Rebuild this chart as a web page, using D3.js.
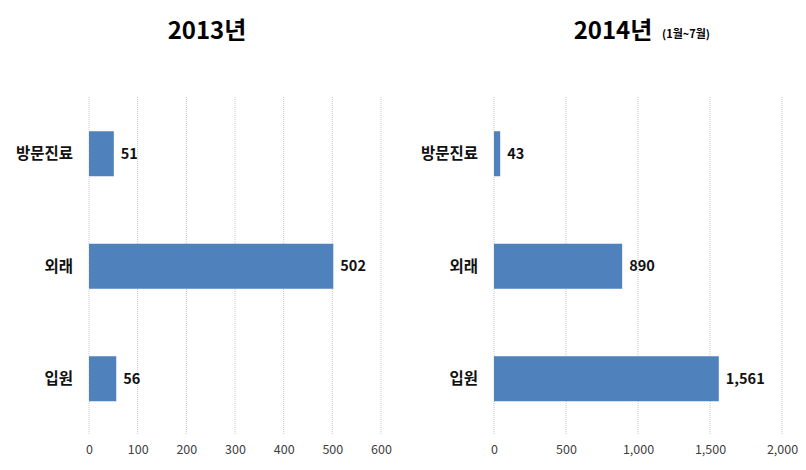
<!DOCTYPE html>
<html><head><meta charset="utf-8">
<script src="https://cdn.jsdelivr.net/npm/d3@7"></script>
<style>
html,body{margin:0;padding:0;background:#fff;}
svg{display:block;font-family:"Noto Sans CJK KR","Noto Sans",sans-serif;}
</style></head>
<body>
<svg id="chart" width="806" height="470"></svg>
<script>
const categories = ["방문진료", "외래", "입원"];
const values2013 = [51, 502, 56];
const values2014 = [43, 890, 1561];
const ticks2013 = [0, 100, 200, 300, 400, 500, 600];
const ticks2014 = [0, 500, 1000, 1500, 2000];
const titles = ["2013년", "2014년"];
const subtitle2014 = "(1월~7월)";

const svg = d3.select("#chart");
const fmt = d3.format(",");
const barColor = "#4f81bd";

const panels = [
  {values: values2013, ticks: ticks2013, x0: 89, x1: 381, title: titles[0], titleX: 207, sub: null},
  {values: values2014, ticks: ticks2014, x0: 494, x1: 782, title: titles[1], titleX: 613, sub: subtitle2014}
];

panels.forEach(p => {
  const x = d3.scaleLinear().domain([0, d3.max(p.ticks)]).range([p.x0, p.x1]);
  const y = d3.scaleBand().domain(categories).range([97.5, 435]).paddingInner(0.6).paddingOuter(0.3);
  const g = svg.append("g");

  g.selectAll("line.grid").data(p.ticks).join("line")
    .attr("x1", d => x(d)).attr("x2", d => x(d))
    .attr("y1", 97).attr("y2", 435)
    .attr("stroke", "#c8c8c8").attr("stroke-width", 1)
    .attr("stroke-dasharray", "1,1");

  const axis = d3.axisBottom(x).tickValues(p.ticks).tickFormat(fmt).tickSize(0).tickPadding(0);
  const ax = g.append("g").attr("transform", "translate(0,445)").call(axis);
  ax.select(".domain").remove();
  ax.selectAll("text").attr("font-size", 12.5).attr("fill", "#404040")
    .attr("font-family", "'Noto Sans CJK KR', sans-serif").attr("dy", "0.71em");

  g.selectAll("rect.bar").data(p.values).join("rect")
    .attr("x", x(0))
    .attr("y", (d, i) => y(categories[i]))
    .attr("width", d => x(d) - x(0))
    .attr("height", y.bandwidth())
    .attr("fill", barColor);

  g.selectAll("text.val").data(p.values).join("text")
    .attr("x", d => x(d) + 7)
    .attr("y", (d, i) => y(categories[i]) + y.bandwidth() / 2 + 5)
    .attr("font-size", 14.5).attr("font-weight", "bold").attr("fill", "#111")
    .text(d => fmt(d));

  g.selectAll("text.cat").data(categories).join("text")
    .attr("x", p.x0 - 16)
    .attr("y", d => y(d) + y.bandwidth() / 2 + 5.5)
    .attr("text-anchor", "end")
    .attr("font-size", 15.5).attr("font-weight", "bold").attr("fill", "#111")
    .text(d => d);

  g.append("text").attr("x", p.titleX).attr("y", 39)
    .attr("text-anchor", "middle").attr("font-size", 24).attr("font-weight", "bold")
    .attr("fill", "#000").text(p.title);
  if (p.sub) {
    g.append("text").attr("x", 662).attr("y", 38)
      .attr("font-size", 11).attr("font-weight", "bold").attr("fill", "#000").text(p.sub);
  }
});
</script>
</body></html>
